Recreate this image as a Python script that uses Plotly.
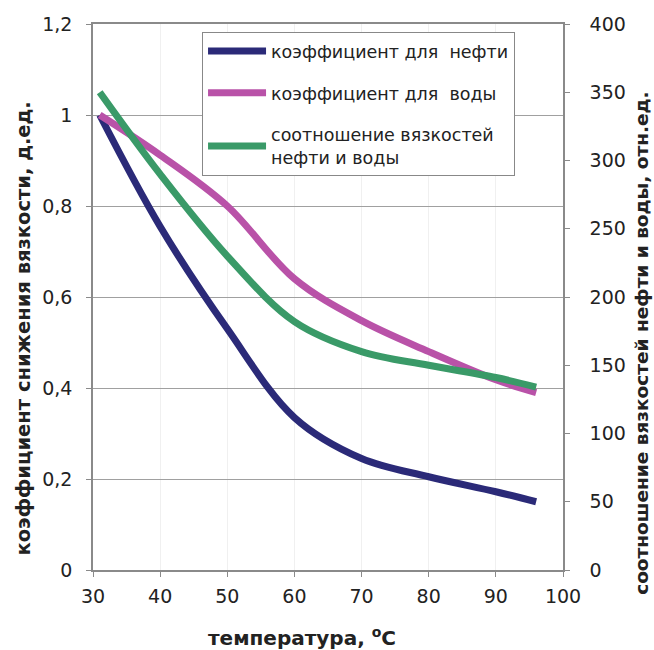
import plotly.graph_objects as go

temperature = [31, 40, 50, 60, 70, 80, 90, 96]
oil_coef = [1.0, 0.755, 0.53, 0.335, 0.245, 0.205, 0.172, 0.15]
water_coef = [1.0, 0.912, 0.80, 0.64, 0.548, 0.48, 0.418, 0.39]
visc_ratio = [350, 290, 230, 182, 160, 150, 141, 134]

names = ["коэффициент для  нефти", "коэффициент для  воды", "соотношение вязкостей<br>нефти и воды"]
colors = ["#2b2a78", "#b952a8", "#3a9a68"]

x_title = "<b>температура, <sup>o</sup>C</b>"
y_title = "<b>коэффициент снижения вязкости, д.ед.</b>"
y2_title = "<b>соотношение вязкостей нефти и воды, отн.ед.</b>"

font_family = "DejaVu Sans, Arial, sans-serif"

fig = go.Figure()
fig.add_trace(go.Scatter(x=temperature, y=oil_coef, name=names[0], mode="lines",
                         line=dict(color=colors[0], width=7, shape="spline", smoothing=1.0),
                         legendgroup="a"))
fig.add_trace(go.Scatter(x=temperature, y=water_coef, name=names[1], mode="lines",
                         line=dict(color=colors[1], width=7, shape="spline", smoothing=1.0),
                         legendgroup="b"))
fig.add_trace(go.Scatter(x=temperature, y=visc_ratio, name=names[2], mode="lines", yaxis="y2",
                         line=dict(color=colors[2], width=7, shape="spline", smoothing=1.0),
                         legendgroup="c"))

axis_line = "#8a8a8a"
fig.update_layout(
    width=654, height=650,
    margin=dict(l=93, r=91, t=24, b=80),
    paper_bgcolor="white", plot_bgcolor="white",
    separators=", ",
    font=dict(family=font_family, size=19, color="#222"),
    showlegend=True,
    legend=dict(x=0.232, y=0.985, xanchor="left", yanchor="top",
                bordercolor="#888", borderwidth=1, bgcolor="white",
                font=dict(size=17.5, color="#222"), tracegroupgap=16,
                itemwidth=58),
    xaxis=dict(range=[30, 100], dtick=10, tick0=30, showline=True, linecolor=axis_line,
               linewidth=1.5, mirror=True, ticks="outside", ticklen=5, tickcolor=axis_line,
               ticklabelstandoff=3,
               showgrid=True, gridcolor="#f0f0f0", zeroline=False),
    yaxis=dict(range=[0, 1.2], dtick=0.2, tick0=0, showline=True, linecolor=axis_line,
               linewidth=1.5, mirror=True, ticks="outside", ticklen=5, tickcolor=axis_line,
               ticklabelstandoff=10,
               showgrid=True, gridcolor="#a0a0a0", gridwidth=1, zeroline=False),
    yaxis2=dict(range=[0, 400], dtick=50, tick0=0, overlaying="y", side="right",
                showline=True, linecolor=axis_line, linewidth=1.5, ticks="outside",
                ticklen=5, tickcolor=axis_line, ticklabelstandoff=16,
                showgrid=False, zeroline=False),
    annotations=[
        dict(text=x_title, xref="paper", yref="paper", x=0.445, y=-0.123,
             xanchor="center", yanchor="middle", showarrow=False, font=dict(size=20)),
        dict(text=y_title, xref="paper", yref="paper", x=-0.148, y=0.443, textangle=-90,
             xanchor="center", yanchor="middle", showarrow=False, font=dict(size=19.5)),
        dict(text=y2_title, xref="paper", yref="paper", x=1.168, y=0.416, textangle=-90,
             xanchor="center", yanchor="middle", showarrow=False, font=dict(size=18.5)),
    ],
)

fig.write_html("out.html")
